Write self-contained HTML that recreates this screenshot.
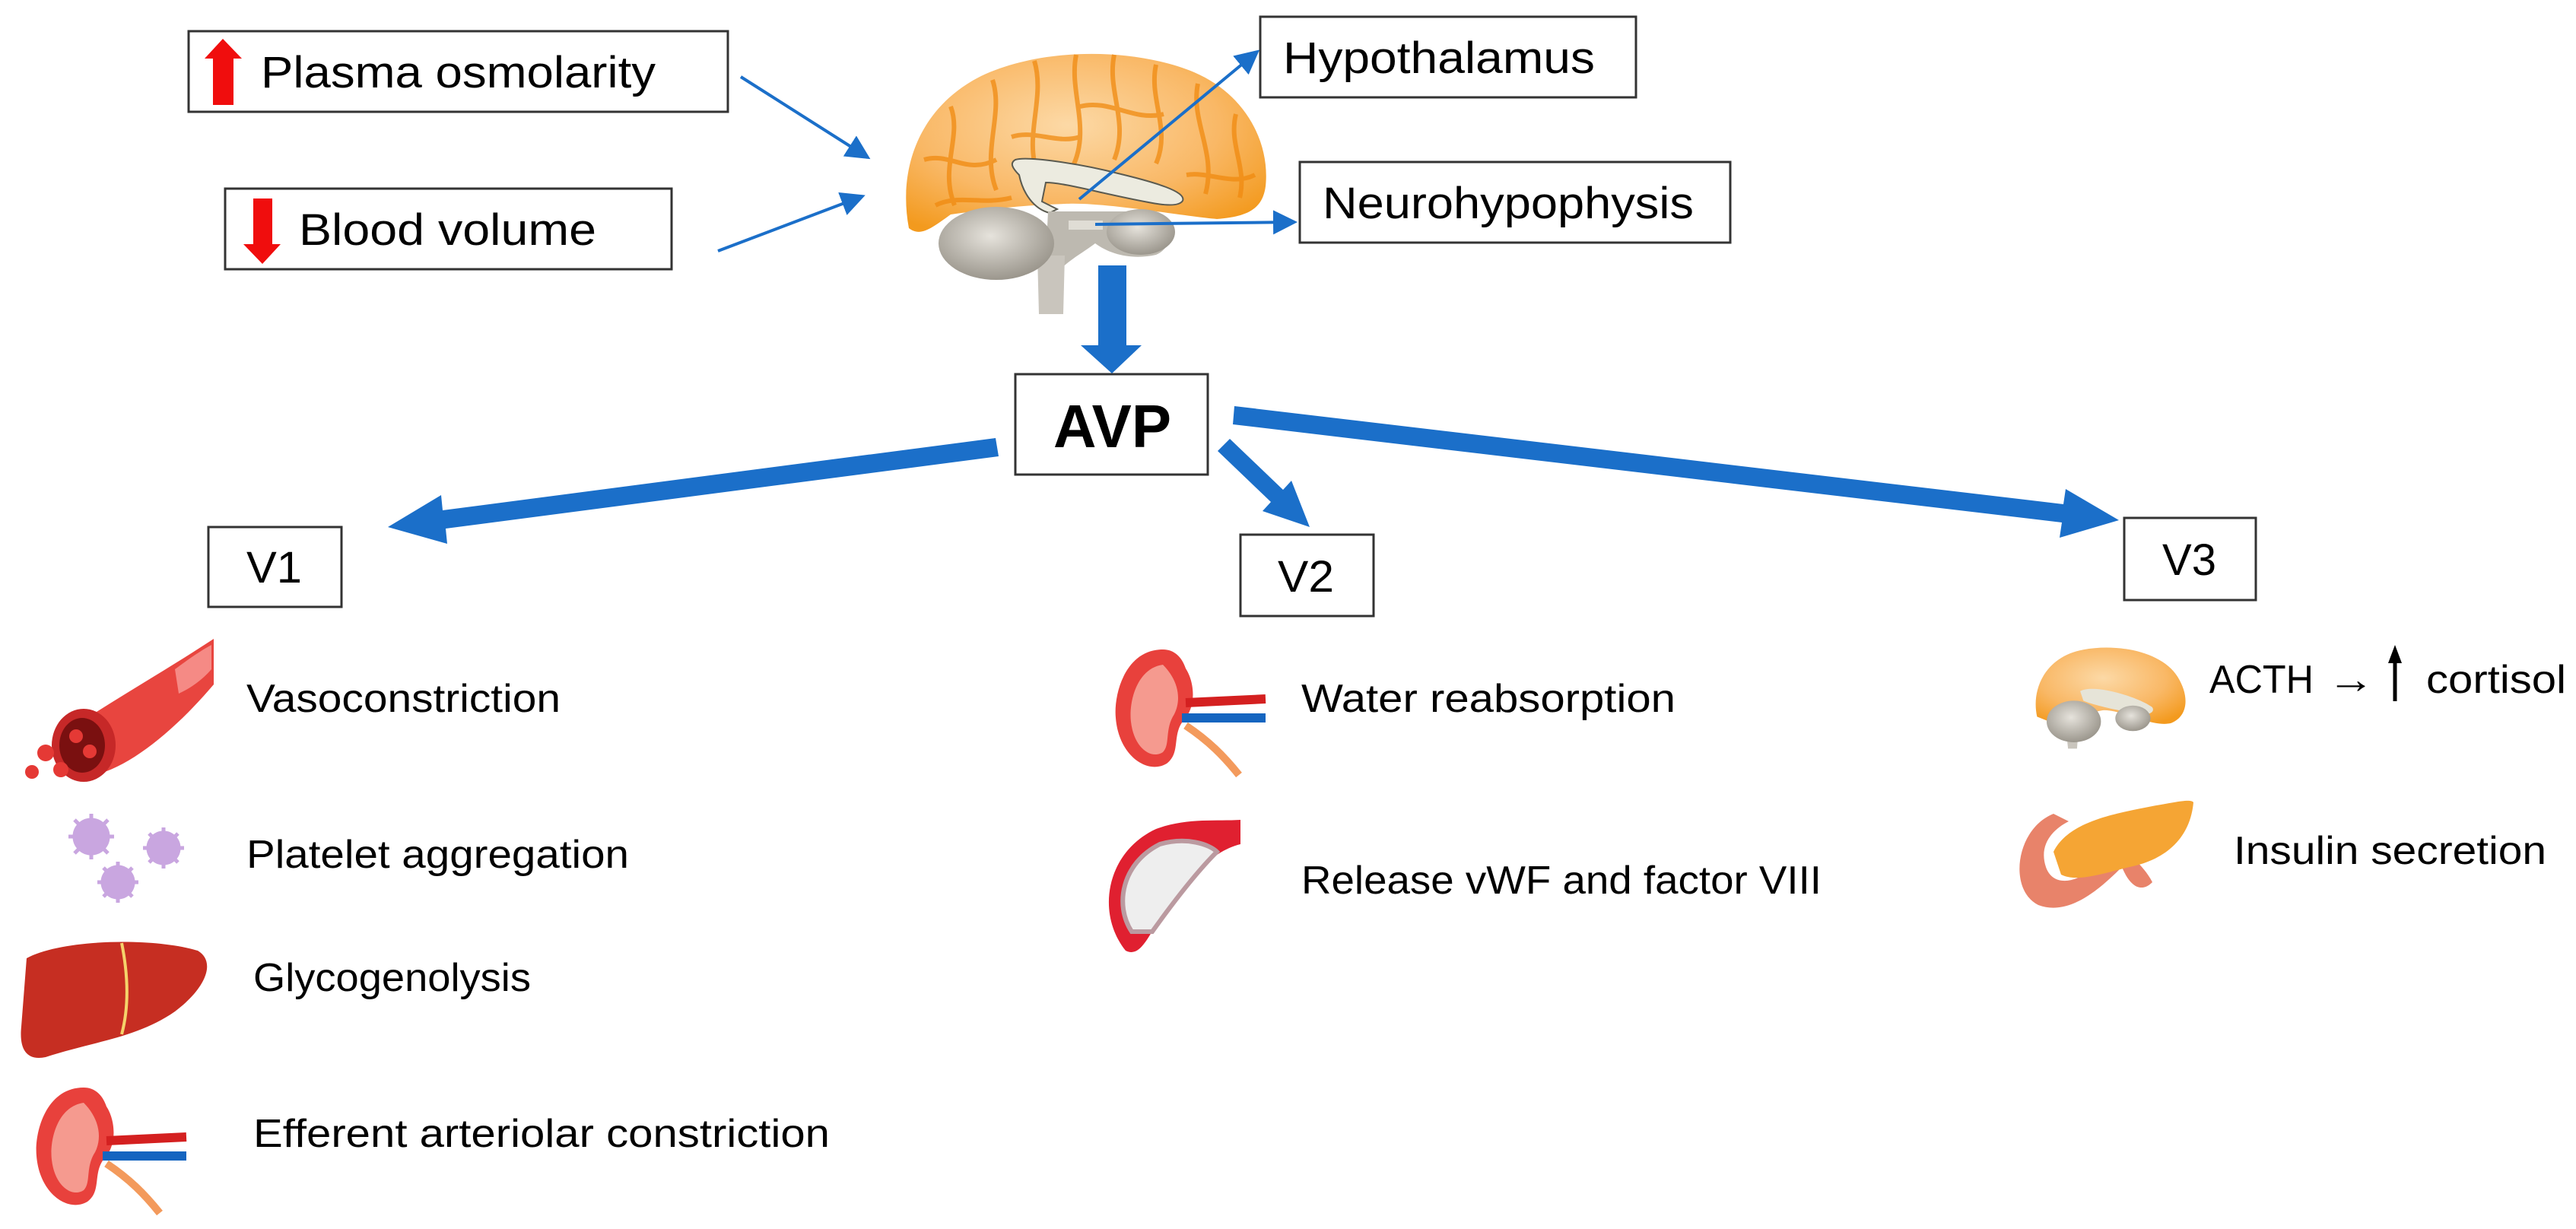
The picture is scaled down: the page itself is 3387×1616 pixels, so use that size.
<!DOCTYPE html>
<html><head><meta charset="utf-8"><style>
html,body{margin:0;padding:0;background:#fff;}
svg{display:block;}
text{font-family:"Liberation Sans",sans-serif;fill:#000;}
</style></head><body>
<svg width="3387" height="1616" viewBox="0 0 3387 1616" xmlns="http://www.w3.org/2000/svg">
<defs>
<marker id="ah" markerWidth="8" markerHeight="8" refX="7" refY="4" orient="auto" markerUnits="strokeWidth">
<path d="M0,0 L8,4 L0,8 Z" fill="#1b6fc9"/></marker>
<radialGradient id="org" cx="0.45" cy="0.4" r="0.7"><stop offset="0" stop-color="#fcd9a6"/><stop offset="0.6" stop-color="#f9b866"/><stop offset="1" stop-color="#f39a1e"/></radialGradient>
<radialGradient id="gry" cx="0.45" cy="0.4" r="0.7"><stop offset="0" stop-color="#e6e3dc"/><stop offset="1" stop-color="#8f8a80"/></radialGradient>
</defs>

<!-- boxes -->
<g fill="#fff" stroke="#333" stroke-width="3">
<rect x="248" y="41" width="709" height="106"/>
<rect x="296" y="248" width="587" height="106"/>
<rect x="1657" y="22" width="494" height="106"/>
<rect x="1709" y="213" width="566" height="106"/>
<rect x="1335" y="492" width="253" height="132"/>
<rect x="274" y="693" width="175" height="105"/>
<rect x="1631" y="703" width="175" height="107"/>
<rect x="2793" y="681" width="173" height="108"/>
</g>

<!-- red arrows -->
<polygon points="280,77 269,77 293,51 318,77 307,77 307,138 280,138" fill="#f00d0d"/>
<polygon points="333,261 358,261 358,321 369,321 345,347 320,321 333,321" fill="#f00d0d"/>

<!-- texts -->
<text x="343" y="115" font-size="58" textLength="519" lengthAdjust="spacingAndGlyphs">Plasma osmolarity</text>
<text x="393" y="322" font-size="58" textLength="391" lengthAdjust="spacingAndGlyphs">Blood volume</text>
<text x="1687" y="96" font-size="58" textLength="410" lengthAdjust="spacingAndGlyphs">Hypothalamus</text>
<text x="1739" y="287" font-size="58" textLength="488" lengthAdjust="spacingAndGlyphs">Neurohypophysis</text>
<text x="1385" y="588" font-size="80" font-weight="bold" textLength="155" lengthAdjust="spacingAndGlyphs">AVP</text>
<text x="324" y="766" font-size="58" textLength="73" lengthAdjust="spacingAndGlyphs">V1</text>
<text x="1680" y="778" font-size="58" textLength="74" lengthAdjust="spacingAndGlyphs">V2</text>
<text x="2843" y="756" font-size="58" textLength="71" lengthAdjust="spacingAndGlyphs">V3</text>
<g font-size="52">
<text x="324" y="936" textLength="413" lengthAdjust="spacingAndGlyphs">Vasoconstriction</text>
<text x="324" y="1141" textLength="503" lengthAdjust="spacingAndGlyphs">Platelet aggregation</text>
<text x="333" y="1303" textLength="365" lengthAdjust="spacingAndGlyphs">Glycogenolysis</text>
<text x="333" y="1508" textLength="758" lengthAdjust="spacingAndGlyphs">Efferent arteriolar constriction</text>
<text x="1711" y="936" textLength="492" lengthAdjust="spacingAndGlyphs">Water reabsorption</text>
<text x="1711" y="1175" textLength="684" lengthAdjust="spacingAndGlyphs">Release vWF and factor VIII</text>
<text x="2905" y="911" textLength="137" lengthAdjust="spacingAndGlyphs">ACTH</text>
<text x="3060" y="911" textLength="62" lengthAdjust="spacingAndGlyphs">→</text>
<text x="3190" y="911" textLength="184" lengthAdjust="spacingAndGlyphs">cortisol</text>
<text x="2937" y="1136" textLength="411" lengthAdjust="spacingAndGlyphs">Insulin secretion</text>
</g>
<path d="M3149,922 L3149,868" stroke="#000" stroke-width="5"/>
<polygon points="3140,872 3149,848 3158,872" fill="#000"/>

<!-- main brain -->
<g>
<path d="M1195,300 C1180,220 1210,140 1290,100 C1370,62 1490,62 1570,95 C1640,125 1670,190 1664,245 C1660,275 1640,285 1600,288 C1560,285 1450,265 1400,268 C1340,270 1300,275 1250,282 C1225,300 1210,312 1195,300 Z" fill="url(#org)"/>
<g stroke="#f08a10" stroke-width="6" fill="none" opacity="0.75">
<path d="M1250,140 C1265,180 1235,220 1255,270"/><path d="M1305,105 C1320,150 1290,200 1310,250"/>
<path d="M1360,80 C1375,130 1345,180 1365,230"/><path d="M1415,72 C1405,120 1435,170 1410,220"/>
<path d="M1465,72 C1455,120 1485,160 1465,210"/><path d="M1520,85 C1510,130 1540,170 1520,215"/>
<path d="M1575,110 C1565,160 1600,200 1585,255"/><path d="M1625,150 C1615,190 1640,220 1630,260"/>
<path d="M1215,210 C1250,200 1270,230 1310,210"/><path d="M1420,140 C1460,130 1490,160 1530,150"/>
<path d="M1560,230 C1590,225 1620,245 1650,230"/><path d="M1230,270 C1260,255 1290,270 1330,260"/>
<path d="M1330,180 C1360,170 1390,190 1420,180"/>
</g>
<path d="M1335,210 C1350,205 1420,215 1470,228 C1520,240 1560,252 1555,264 C1550,272 1530,270 1510,266 C1450,255 1400,240 1375,240 L1370,265 L1390,275 L1380,280 C1360,275 1345,255 1340,230 C1330,220 1328,214 1335,210 Z" fill="#ecebe0" stroke="#5a5a50" stroke-width="2"/>
<path d="M1378,278 L1520,278 C1545,285 1545,325 1520,335 C1490,342 1460,335 1440,320 C1420,335 1400,345 1390,360 L1375,340 Z" fill="#bdb9b0"/>
<path d="M1364,336 L1400,336 L1398,413 L1366,413 Z" fill="#c9c5bd"/>
<ellipse cx="1310" cy="320" rx="76" ry="48" fill="url(#gry)"/>
<ellipse cx="1500" cy="305" rx="45" ry="30" fill="url(#gry)"/>
<path d="M1405,290 L1450,290 L1450,302 L1405,302 Z" fill="#e0ddd5"/>
</g>

<!-- thin arrows -->
<g stroke="#1b6fc9" stroke-width="4" fill="none" marker-end="url(#ah)">
<line x1="974" y1="101" x2="1141" y2="207"/>
<line x1="944" y1="330" x2="1134" y2="258"/>
<line x1="1419" y1="262" x2="1653" y2="68"/>
<line x1="1440" y1="295" x2="1702" y2="292"/>
</g>

<!-- thick arrows -->
<g fill="#1b6fc9">
<polygon points="1444,349 1481,349 1481,454 1501,454 1462,491 1421,454 1444,454"/>
<polygon points="1313,600 586,695 588,715 510,693 580,651 582,671 1309,576"/>
<polygon points="1601,593 1671,660 1660,672 1722,693 1698,632 1687,644 1617,577"/>
<polygon points="1621,558 2711,687 2708,707 2786,684 2716,643 2713,663 1623,534"/>
</g>

<!-- V1 vessel -->
<g>
<path d="M90,960 C150,920 220,880 281,840 L281,900 C230,960 170,1010 120,1020 Z" fill="#e8453f"/>
<path d="M230,880 C250,865 265,855 278,848 L278,880 C265,895 250,905 235,912 Z" fill="#f58a85"/>
<ellipse cx="110" cy="980" rx="42" ry="48" fill="#c62828"/>
<ellipse cx="108" cy="980" rx="30" ry="36" fill="#7a1010"/>
<circle cx="100" cy="968" r="9" fill="#e53935"/><circle cx="118" cy="988" r="9" fill="#e53935"/>
<circle cx="60" cy="990" r="11" fill="#e53935"/><circle cx="80" cy="1012" r="10" fill="#e53935"/><circle cx="42" cy="1015" r="9" fill="#e53935"/>
</g>
<!-- platelets -->
<g fill="#c9a6e0" stroke="#c9a6e0" stroke-width="5">
<circle cx="120" cy="1100" r="22"/><path d="M120,1070 L120,1130 M90,1100 L150,1100 M98,1078 L142,1122 M142,1078 L98,1122"/>
<circle cx="215" cy="1115" r="20"/><path d="M215,1088 L215,1142 M188,1115 L242,1115 M196,1096 L234,1134 M234,1096 L196,1134"/>
<circle cx="155" cy="1160" r="20"/><path d="M155,1133 L155,1187 M128,1160 L182,1160 M136,1141 L174,1179 M174,1141 L136,1179"/>
</g>
<!-- liver -->
<path d="M35,1260 C80,1235 200,1232 260,1250 C285,1265 270,1300 230,1330 C180,1365 120,1370 60,1390 C35,1395 25,1380 28,1350 Z" fill="#c62e22"/>
<path d="M160,1240 C170,1290 168,1330 160,1360" stroke="#f5d36b" stroke-width="4" fill="none"/>
<!-- kidneys -->
<g id="kid">
<path d="M110,1430 C60,1430 45,1490 48,1520 C52,1570 90,1595 115,1580 C135,1565 120,1540 140,1520 C155,1500 150,1470 140,1455 C135,1440 125,1430 110,1430 Z" fill="#e8413c"/>
<path d="M110,1450 C75,1455 65,1500 68,1525 C72,1560 95,1575 110,1565 C120,1555 112,1535 125,1515 C135,1495 130,1470 110,1450 Z" fill="#f59a8f"/>
<path d="M140,1500 L245,1495" stroke="#d42020" stroke-width="12"/>
<path d="M135,1520 L245,1520" stroke="#1565c0" stroke-width="12"/>
<path d="M140,1530 C170,1550 190,1570 210,1595" stroke="#f39a5c" stroke-width="10" fill="none"/>
</g>
<use href="#kid" transform="translate(1419,-576)"/>
<!-- V2 vessel -->
<path d="M1480,1250 C1440,1200 1455,1120 1520,1090 C1560,1075 1600,1080 1631,1078 L1631,1110 C1590,1120 1560,1160 1530,1200 C1510,1230 1500,1260 1480,1250 Z" fill="#e02030"/>
<path d="M1488,1225 C1465,1190 1475,1135 1525,1110 C1560,1100 1590,1110 1600,1120 C1570,1150 1540,1190 1515,1225 Z" fill="#eee" stroke="#bb9aa0" stroke-width="6"/>
<!-- small brain -->
<g transform="translate(2670,850) scale(0.42)">
<path d="M20,220 C0,130 50,30 165,10 C270,-10 410,15 460,95 C500,160 490,220 440,240 C380,255 280,195 225,200 C165,210 120,235 70,240 Z" fill="url(#org)"/>
<path d="M155,140 C200,115 340,160 380,190 C390,202 375,215 350,212 C290,205 200,185 165,170 Z" fill="#e6e4d8"/>
<path d="M110,255 L150,255 L145,320 L117,320 Z" fill="#c9c5bd"/>
<ellipse cx="135" cy="235" rx="85" ry="65" fill="url(#gry)"/>
<ellipse cx="320" cy="225" rx="55" ry="40" fill="url(#gry)"/>
</g>
<!-- pancreas -->
<path d="M2700,1070 C2650,1090 2640,1170 2680,1190 C2720,1205 2760,1170 2790,1140 C2800,1165 2815,1175 2830,1160 C2820,1140 2800,1125 2790,1110 L2760,1130 C2740,1160 2700,1170 2690,1140 C2680,1110 2700,1090 2720,1080 Z" fill="#e8836a"/>
<path d="M2700,1120 C2720,1080 2780,1070 2830,1060 C2860,1055 2880,1050 2884,1055 C2880,1100 2850,1130 2800,1140 C2760,1150 2730,1160 2710,1150 Z" fill="#f5a534"/>
</svg>
</body></html>
